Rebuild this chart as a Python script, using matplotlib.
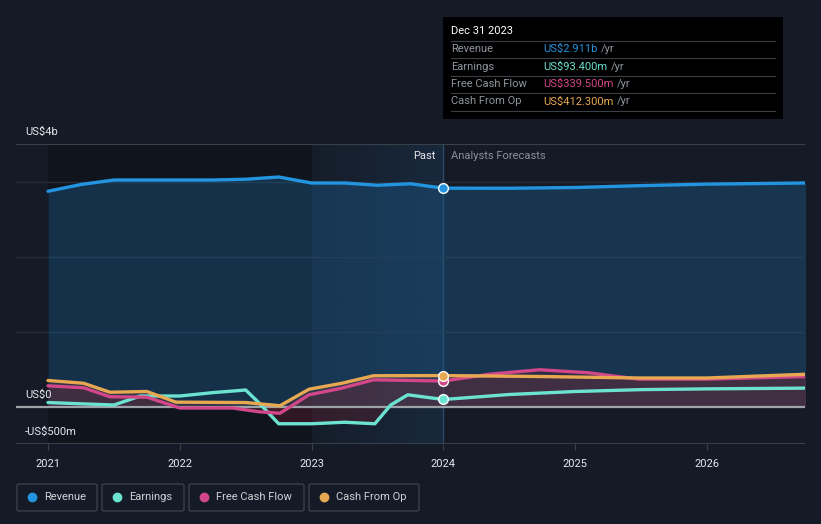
import matplotlib.pyplot as plt
import matplotlib.patches as patches
import matplotlib.colors as mcolors
import numpy as np

# colours
bg = '#151b26'
c_rev = '#2394df'
c_earn = '#6ce3d0'
c_fcf = '#d1478a'
c_cfo = '#e8a852'

# data (US$ billions)
rev_x = [2021.0, 2021.25, 2021.5, 2021.75, 2022.0, 2022.25, 2022.5, 2022.75, 2023.0, 2023.25, 2023.5, 2023.75,
         2024.0, 2024.5, 2025.0, 2025.5, 2026.0, 2026.75]
rev_y = [2.87, 2.96, 3.02, 3.02, 3.02, 3.02, 3.03, 3.06, 2.98, 2.98, 2.95, 2.97,
         2.911, 2.91, 2.92, 2.945, 2.965, 2.98]

earn_x = [2021.0, 2021.25, 2021.5, 2021.7, 2022.0, 2022.25, 2022.5, 2022.6, 2022.75, 2023.0, 2023.25, 2023.48,
          2023.6, 2023.73, 2024.0, 2024.5, 2025.0, 2025.5, 2026.0, 2026.75]
earn_y = [0.053, 0.036, 0.02, 0.14, 0.14, 0.185, 0.22, 0.05, -0.23, -0.23, -0.21, -0.23,
          0.02, 0.156, 0.0934, 0.16, 0.2, 0.225, 0.235, 0.245]

fcf_x = [2021.0, 2021.27, 2021.47, 2021.75, 2022.0, 2022.4, 2022.6, 2022.76, 2022.98, 2023.23, 2023.47,
         2024.0, 2024.35, 2024.73, 2025.1, 2025.48, 2026.0, 2026.75]
fcf_y = [0.276, 0.25, 0.13, 0.125, -0.02, -0.02, -0.07, -0.09, 0.156, 0.245, 0.356,
         0.3395, 0.43, 0.49, 0.45, 0.365, 0.365, 0.40]

cfo_x = [2021.0, 2021.27, 2021.47, 2021.75, 2021.97, 2022.5, 2022.76, 2022.98, 2023.23, 2023.47,
         2024.0, 2024.73, 2025.48, 2026.0, 2026.75]
cfo_y = [0.347, 0.31, 0.19, 0.2, 0.058, 0.053, 0.01, 0.23, 0.31, 0.41,
         0.4123, 0.40, 0.38, 0.38, 0.43]

years = [2021, 2022, 2023, 2024, 2025, 2026]
tooltip_rows = [('Revenue', 'US$2.911b', c_rev), ('Earnings', 'US$93.400m', c_earn),
                ('Free Cash Flow', 'US$339.500m', c_fcf), ('Cash From Op', 'US$412.300m', c_cfo)]
legend_names = ['Revenue', 'Earnings', 'Free Cash Flow', 'Cash From Op']

W, H = 821, 524
plt.rcParams['font.family'] = ['Roboto', 'DejaVu Sans']
fig = plt.figure(figsize=(W / 100, H / 100), dpi=100, facecolor=bg)

# axes placed in pixel terms
left, right, top, bottom = 16, 805, 144, 444
ax = fig.add_axes([left / W, 1 - bottom / H, (right - left) / W, (bottom - top) / H])
ax.set_facecolor(bg)
x0 = 2021 - 32 / 131.8
x1 = 2021 + (805 - 48) / 131.8

# past regions: dark band then bluish gradient up to the forecast line
ax.axvspan(2021, 2023, color='#0d1016', alpha=0.5, lw=0, zorder=0)
grad = np.zeros((1, 256, 4))
grad[..., :3] = mcolors.to_rgb('#1c3a58')
grad[0, :, 3] = np.linspace(0.08, 0.45, 256)
ax.imshow(grad, extent=[2023, 2024, -0.5, 3.5], aspect='auto', zorder=0.5, interpolation='bilinear')
ax.set_xlim(x0, x1)
ax.set_ylim(-0.5, 3.5)
ax.axvline(2024, color='#2b4a66', lw=1, zorder=1)

# gridlines
for g in [1, 2, 3]:
    ax.axhline(g, color='#262d38', lw=1, zorder=1)
ax.axhline(3.5, color='#3a404a', lw=1.5, zorder=1)
ax.axhline(-0.5, color='#3a404a', lw=1.5, zorder=1)
ax.axhline(0, color='#9ea2a9', lw=1.6, zorder=4)

for s in ax.spines.values():
    s.set_visible(False)
ax.set_yticks([])
ax.set_xticks(years)
ax.set_xticklabels([str(y) for y in years], color='#e6e8eb', fontsize=8)
ax.tick_params(axis='x', length=4, color='#3a404a', pad=7)

# fills
ax.fill_between(rev_x, 0, rev_y, color='#1d5a8a', alpha=0.42, lw=0, zorder=2)
ax.fill_between(cfo_x, 0, cfo_y, color='#5a3a44', alpha=0.35, lw=0, zorder=2)
ax.fill_between(earn_x, 0, earn_y, color='#6a2030', alpha=0.35, lw=0, zorder=2,
                where=np.array(earn_y) < 0, interpolate=True)
ax.fill_between(fcf_x, 0, fcf_y, color='#6a2030', alpha=0.3, lw=0, zorder=2)

# lines
for xs, ys, c in [(rev_x, rev_y, c_rev), (earn_x, earn_y, c_earn), (fcf_x, fcf_y, c_fcf), (cfo_x, cfo_y, c_cfo)]:
    ax.plot(xs, ys, color=c, lw=2.4, solid_joinstyle='round', solid_capstyle='round', zorder=5)
    i = xs.index(2024.0)
    ax.plot(xs[i], ys[i], 'o', ms=7, color=c, mec='white', mew=1, zorder=6)

# labels in figure pixels
def ftext(x, y, s, **kw):
    return fig.text(x / W, 1 - y / H, s, **kw)

ftext(25, 132, 'US$4b', color='#e6e8eb', fontsize=8, va='center')
ftext(25, 395, 'US$0', color='#e6e8eb', fontsize=8, va='center')
ftext(25, 432, '-US$500m', color='#e6e8eb', fontsize=8, va='center')
ftext(435, 156, 'Past', color='#e6e8eb', fontsize=8, va='center', ha='right')
ftext(451, 156, 'Analysts Forecasts', color='#8a9099', fontsize=8, va='center')

# tooltip
fig.patches.append(patches.Rectangle((443 / W, 1 - 119 / H), 340 / W, 102 / H,
                                     transform=fig.transFigure, facecolor='#000000', edgecolor='none', zorder=10))
ftext(451, 31, 'Dec 31 2023', color='white', fontsize=8, va='center', zorder=11)
renderer = fig.canvas.get_renderer()
for k, (lab, val, c) in enumerate(tooltip_rows):
    yy = 49 + k * 17.5
    ftext(451, yy, lab, color='#8f959e', fontsize=8, va='center', zorder=11)
    t = ftext(543, yy, val, color=c, fontsize=8, va='center', zorder=11)
    bb = t.get_window_extent(renderer)
    ftext(bb.x1 + 4, yy, '/yr', color='#8f959e', fontsize=8, va='center', zorder=11)
    fig.add_artist(plt.Line2D([451 / W, 775 / W], [1 - (yy - 8.5) / H] * 2, color='#3a3f47', lw=0.8, zorder=11))
fig.add_artist(plt.Line2D([451 / W, 775 / W], [1 - 111 / H] * 2, color='#3a3f47', lw=0.8, zorder=11))

# legend boxes
boxes = [(17, 97), (102, 184), (189, 304), (309, 419)]
for (bx0, bx1), name, c in zip(boxes, legend_names, [c_rev, c_earn, c_fcf, c_cfo]):
    fig.patches.append(patches.FancyBboxPatch((bx0 / W, 1 - 511 / H), (bx1 - bx0) / W, 27 / H,
                                              boxstyle='round,pad=0,rounding_size=0.003', transform=fig.transFigure,
                                              facecolor='none', edgecolor='#3a404a', lw=1))
    fig.add_artist(plt.Line2D([(bx0 + 15) / W], [1 - 497 / H], marker='o', ms=6, color=c, mec=c))
    ftext(bx0 + 27, 497, name, color='#cfd2d6', fontsize=8, va='center')

fig.savefig('out.png', dpi=100, facecolor=bg)
